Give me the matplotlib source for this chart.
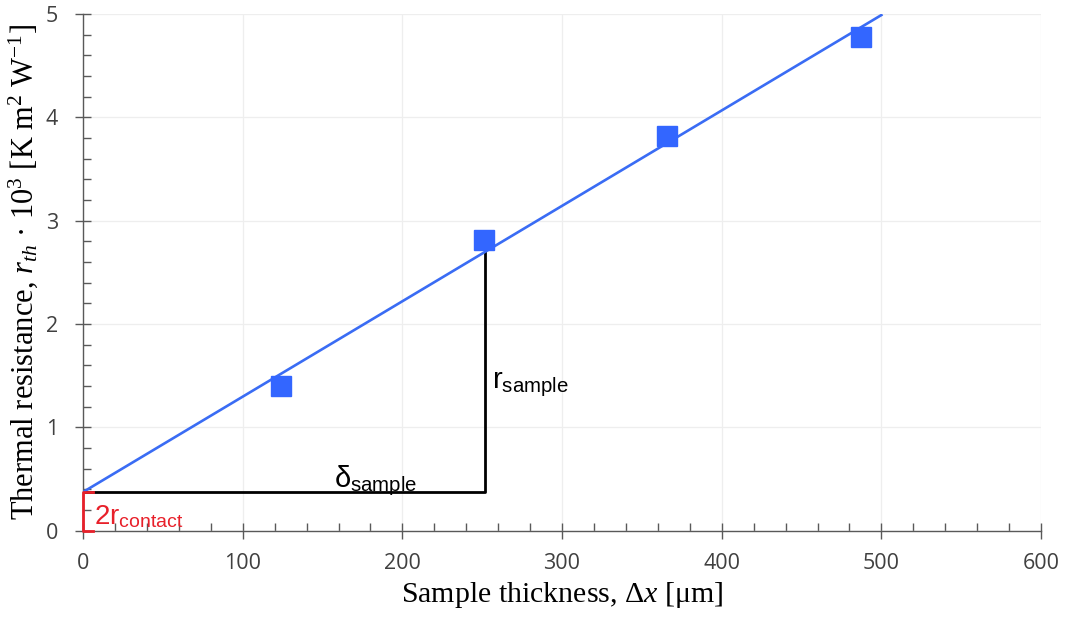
import numpy as np
import matplotlib
matplotlib.use("Agg")
import matplotlib.pyplot as plt
from matplotlib.ticker import MultipleLocator

# measured points
thickness = [124, 251, 366, 487]          # um
resistance = [1.40, 2.81, 3.82, 4.78]     # K m2 W-1 * 1e3

# linear fit line
fit_x = [0, 500]
fit_y = [0.375, 4.99]

# construction lines
contact_r = 0.375
delta_x = 252

plt.rcParams['mathtext.fontset'] = 'custom'
plt.rcParams['mathtext.rm'] = 'Liberation Serif'
plt.rcParams['mathtext.it'] = 'Liberation Serif:italic'
plt.rcParams['mathtext.sf'] = 'Liberation Sans'

blue = '#3366ff'

fig = plt.figure(figsize=(10.65, 6.23), dpi=100)
ax = fig.add_axes([0.078, 0.148, 0.8995, 0.8295])

ax.plot(fit_x, fit_y, color='#3a6cf4', lw=1.9, zorder=3)
ax.plot(thickness, resistance, 's', color=blue, ms=14, zorder=4)

# black triangle legs
slope = (fit_y[1] - fit_y[0]) / (fit_x[1] - fit_x[0])
top = fit_y[0] + slope * delta_x
ax.plot([0, delta_x, delta_x], [contact_r, contact_r, top], color='black', lw=2, zorder=2)

# red bracket
ax.plot([6, 0, 0, 6], [0, 0, contact_r, contact_r], color='#e8202a', lw=2, zorder=5,
        clip_on=False)

ax.text(157, 0.42, r'$\mathsf{\delta}_{\mathsf{sample}}$', fontsize=21, color='black')
ax.text(256, 1.38, r'$\mathsf{r}_{\mathsf{sample}}$', fontsize=21, color='black')
ax.text(7, 0.06, r'$\mathsf{2r}_{\mathsf{contact}}$', fontsize=20, color='#e8202a')

ax.set_xlim(0, 600)
ax.set_ylim(0, 5)
ax.xaxis.set_major_locator(MultipleLocator(100))
ax.xaxis.set_minor_locator(MultipleLocator(20))
ax.yaxis.set_major_locator(MultipleLocator(1))
ax.yaxis.set_minor_locator(MultipleLocator(0.2))

ax.grid(True, which='major', color='#eeeeee', lw=0.9, zorder=0)
ax.set_axisbelow(True)
for s in ['top', 'right']:
    ax.spines[s].set_visible(False)
for s in ['left', 'bottom']:
    ax.spines[s].set_color('#595959')
    ax.spines[s].set_linewidth(1.0)

ax.tick_params(which='major', direction='inout', length=12, width=1.0, color='#595959',
               labelsize=15.5, labelcolor='#404040')
ax.tick_params(axis='x', which='major', pad=10)
ax.tick_params(axis='y', which='major', pad=12)
ax.tick_params(which='minor', direction='in', length=6, width=1.0, color='#595959')
for lab in ax.get_xticklabels() + ax.get_yticklabels():
    lab.set_family('Open Sans')

ax.set_xlabel(r'Sample thickness, $\mathit{Δx}$ [μm]', family='Liberation Serif',
              fontsize=21.5, labelpad=4)
ax.set_ylabel(r'Thermal resistance, $r_{th}$ · 10$^{3}$ [K m$^{2}$ W$^{-1}$]',
              family='Liberation Serif', fontsize=22, labelpad=4)

fig.savefig('out.png', dpi=100)
